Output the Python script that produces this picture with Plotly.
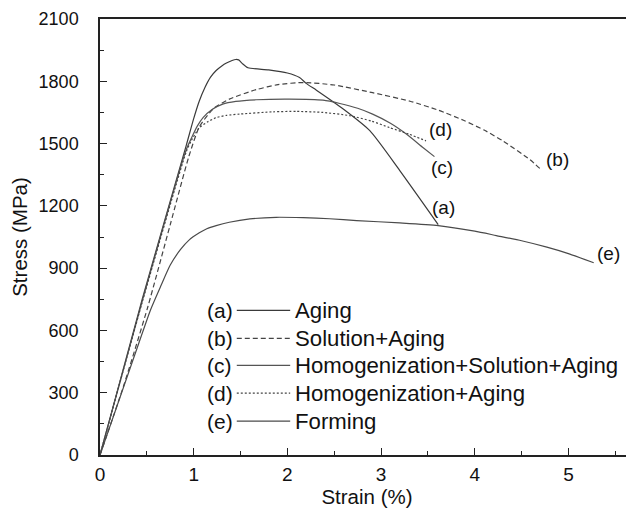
import plotly.graph_objects as go

# ---- data ----
a_x = [0, 0.45, 0.92, 1.0, 1.06, 1.12, 1.18, 1.24, 1.30, 1.35, 1.41, 1.45, 1.48, 1.52, 1.58, 1.8, 2.0, 2.13, 2.2, 2.31, 2.6, 2.88, 3.2, 3.61]
a_y = [0, 750, 1490, 1620, 1705, 1770, 1820, 1852, 1874, 1888, 1900, 1905, 1903, 1885, 1865, 1855, 1840, 1818, 1790, 1757, 1665, 1562, 1370, 1110]

b_x = [0, 0.25, 0.51, 0.75, 0.95, 1.06, 1.21, 1.38, 1.67, 1.9, 2.17, 2.5, 2.91, 3.31, 3.61, 3.88, 4.1, 4.30, 4.59, 4.70]
b_y = [0, 330, 713, 1110, 1440, 1580, 1668, 1714, 1760, 1784, 1794, 1782, 1745, 1704, 1661, 1612, 1565, 1513, 1422, 1378]

c_x = [0, 0.45, 0.92, 0.98, 1.04, 1.10, 1.2, 1.31, 1.45, 1.67, 2.02, 2.38, 2.56, 2.75, 2.91, 3.1, 3.27, 3.45, 3.57]
c_y = [0, 740, 1470, 1530, 1585, 1625, 1665, 1690, 1703, 1711, 1714, 1709, 1693, 1670, 1642, 1598, 1546, 1480, 1437]

d_x = [0, 0.45, 0.92, 0.97, 1.02, 1.06, 1.15, 1.24, 1.35, 1.49, 1.85, 2.1, 2.38, 2.67, 2.9, 3.09, 3.3, 3.48]
d_y = [0, 735, 1460, 1510, 1550, 1577, 1605, 1625, 1636, 1642, 1653, 1655, 1650, 1634, 1608, 1577, 1545, 1513]

e_x = [0, 0.4, 0.54, 0.65, 0.75, 0.86, 0.95, 1.06, 1.14, 1.24, 1.38, 1.6, 1.88, 2.17, 2.45, 2.74, 3.2, 3.61, 4.0, 4.23, 4.5, 4.77, 5.0, 5.27]
e_y = [0, 520, 700, 815, 915, 990, 1035, 1070, 1090, 1105, 1121, 1137, 1145, 1143, 1138, 1129, 1118, 1105, 1078, 1057, 1032, 1001, 970, 926]

letters = ["(a)", "(b)", "(c)", "(d)", "(e)"]
names = ["Aging", "Solution+Aging", "Homogenization+Solution+Aging", "Homogenization+Aging", "Forming"]
xs = [a_x, b_x, c_x, d_x, e_x]
ys = [a_y, b_y, c_y, d_y, e_y]

# ---- styles ----
dashes = ["solid", "5px,3px", "solid", "2px,2px", "solid"]
colors = ["#3a3a3a", "#444444", "#555555", "#444444", "#4a4a4a"]
# curve end label positions (data coords)
lab_x = [3.67, 4.88, 3.65, 3.63, 5.43]
lab_y = [1193, 1421, 1385, 1570, 969]
# legend layout (data coords)
leg_rows_y = [697, 562, 432, 298, 163]
leg_letter_x = 1.12
leg_line_x0, leg_line_x1 = 1.46, 2.03
leg_text_x = 2.06

FONT = "Liberation Sans, Arial, sans-serif"
fig = go.Figure()
for i in range(5):
    fig.add_trace(go.Scatter(x=xs[i], y=ys[i], mode="lines", name=names[i],
                             line=dict(color=colors[i], width=1.2, dash=dashes[i],
                                       shape="spline", smoothing=0.6),
                             showlegend=False))
    fig.add_annotation(x=lab_x[i], y=lab_y[i], text=letters[i], showarrow=False,
                       font=dict(size=19, color="#111", family=FONT))
    # legend
    fig.add_annotation(x=leg_letter_x, y=leg_rows_y[i], text=letters[i], showarrow=False,
                       xanchor="left", font=dict(size=21, color="#111", family=FONT))
    fig.add_shape(type="line", x0=leg_line_x0, x1=leg_line_x1, y0=leg_rows_y[i], y1=leg_rows_y[i],
                  line=dict(color=colors[i], width=1.2, dash=dashes[i]))
    fig.add_annotation(x=leg_text_x, y=leg_rows_y[i], text=names[i], showarrow=False,
                       xanchor="left", font=dict(size=22.2, color="#111", family=FONT))

# the page adds an 8px body margin, so margins are compensated
fig.update_layout(
    width=634, height=515,
    margin=dict(l=92, r=8, t=11, b=68),
    plot_bgcolor="white", paper_bgcolor="white",
    font=dict(family=FONT, color="#111"),
)
fig.update_xaxes(range=[0, 5.7], tickvals=[0, 1, 2, 3, 4, 5], ticks="inside", ticklen=7,
                 tickcolor="#222", tickwidth=1.3,
                 minor=dict(dtick=0.5, tick0=0, ticks="inside", ticklen=4, tickcolor="#222"),
                 showline=True, linecolor="#222", linewidth=1.5, mirror=True,
                 showgrid=False, zeroline=False, automargin=False,
                 tickfont=dict(size=19, family=FONT), ticklabelstandoff=1,
                 title=dict(text="Strain (%)", font=dict(size=20.5, family=FONT), standoff=3))
fig.update_yaxes(range=[0, 2100], tickvals=[0, 300, 600, 900, 1200, 1500, 1800, 2100],
                 ticks="inside", ticklen=7, tickcolor="#222", tickwidth=1.3,
                 minor=dict(dtick=150, tick0=0, ticks="inside", ticklen=4, tickcolor="#222"),
                 showline=True, linecolor="#222", linewidth=1.5,
                 showgrid=False, zeroline=False, automargin=False,
                 tickfont=dict(size=18, family=FONT), ticklabelstandoff=16,
                 title=dict(text="Stress (MPa)", font=dict(size=20.5, family=FONT), standoff=8))

fig.write_html("out.html")
